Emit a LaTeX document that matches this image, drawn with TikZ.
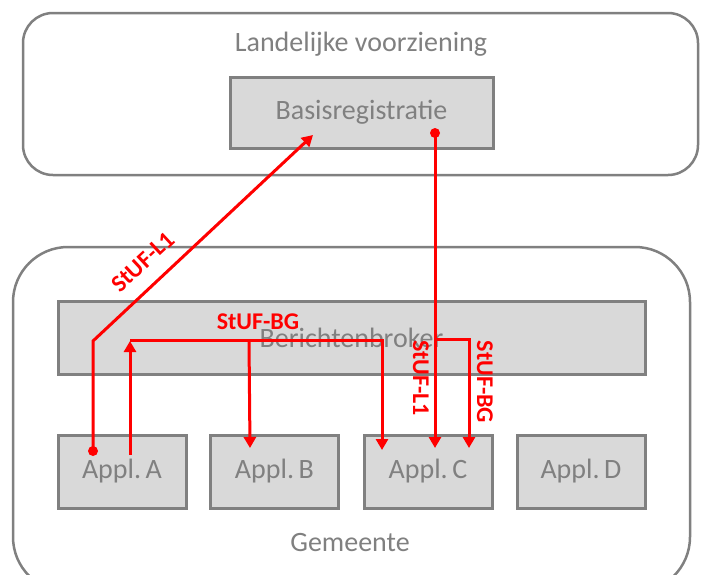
\documentclass[tikz,border=0pt]{standalone}
\usepackage{fontspec}
\setmainfont{Carlito}
\usetikzlibrary{arrows.meta}
\definecolor{boxgrey}{RGB}{217,217,217}
\definecolor{edgegrey}{RGB}{128,128,128}
\definecolor{txtgrey}{RGB}{128,128,128}
\definecolor{msgred}{RGB}{255,0,0}
\begin{document}
\begin{tikzpicture}[x=1pt,y=-1pt,
  outerbox/.style={draw=edgegrey, line width=2.5pt, inner sep=0pt, outer sep=0pt},
  compbox/.style={draw=edgegrey, fill=boxgrey, line width=3pt, inner sep=0pt, outer sep=0pt,
    text=txtgrey, font=\fontsize{28}{32}\selectfont},
  greytext/.style={text=txtgrey, font=\fontsize{28}{32}\selectfont, inner sep=0pt},
  redlabel/.style={text=msgred, font=\bfseries\fontsize{24}{28}\selectfont, inner sep=0pt},
  msg/.style={draw=msgred, line width=3pt},
  msgarrow/.style={msg, -{Triangle[width=12pt,length=11pt]}},
  dot/.style={fill=msgred}
]
\useasboundingbox (0,0) rectangle (701,574);
\clip (0,0) rectangle (701,574);
\fill[white] (0,0) rectangle (701,574);

% containers
\node[outerbox, rounded corners=30pt, minimum width=675pt, minimum height=162pt] (lv) at (360.5,94) {};
\node[greytext] (lvlabel) at (361,44) {Landelijke voorziening};
\node[outerbox, rounded corners=55pt, minimum width=677pt, minimum height=345pt] (gem) at (351.5,419.5) {};
\node[greytext] (gemlabel) at (350,543) {Gemeente};

% components
\node[compbox, minimum width=263pt, minimum height=71pt] (basis) at (361.5,112.5) {Basisregistratie};
\node[compbox, minimum width=587pt, minimum height=73pt] (broker) at (351.5,338) {Berichtenbroker};
\node[compbox, minimum width=128pt, minimum height=73pt] (applA) at (122,471.5) {Appl.\,A};
\node[compbox, minimum width=128pt, minimum height=73pt] (applB) at (274.5,471.5) {Appl.\,B};
\node[compbox, minimum width=128pt, minimum height=73pt] (applC) at (428,471.5) {Appl.\,C};
\node[compbox, minimum width=128pt, minimum height=73pt] (applD) at (581,471.5) {Appl.\,D};

% connector points
\coordinate (aL1) at (93,451);
\coordinate (aBend) at (93,341);
\coordinate (basisIn) at (313,135);
\coordinate (basisOut) at (435,133);
\coordinate (cL1) at (435,448);
\coordinate (aBG) at (130,455);
\coordinate (bBGtop) at (130,341);
\coordinate (hStart) at (130,340);
\coordinate (hEnd) at (382,340);
\coordinate (cBG1) at (382,450);
\coordinate (bBranch) at (249,340);
\coordinate (bBG) at (250,448);
\coordinate (h2Start) at (435,339);
\coordinate (h2End) at (469,339);
\coordinate (cBG2) at (469,448);

% StUF-L1 from Appl. A to Basisregistratie
\draw[msgarrow] (aL1) -- (aBend) -- (basisIn);
\fill[dot] (aL1) circle (5pt);
% StUF-L1 from Basisregistratie to Appl. C
\draw[msgarrow] (basisOut) -- (cL1);
\fill[dot] (basisOut) circle (5pt);
% StUF-BG
\draw[msgarrow] (aBG) -- (bBGtop);
\draw[msgarrow] (hStart) -- (hEnd) -- (cBG1);
\draw[msgarrow] (bBranch) -- (bBG);
\draw[msgarrow] (h2Start) -- (h2End) -- (cBG2);

% labels
\node[redlabel, rotate=43] (l1a) at (143,262) {StUF-L1};
\node[redlabel] (bga) at (258,322) {StUF-BG};
\node[redlabel, rotate=-90] (l1b) at (421,378) {StUF-L1};
\node[redlabel, rotate=-90] (bgb) at (485,382) {StUF-BG};
\end{tikzpicture}
\end{document}
